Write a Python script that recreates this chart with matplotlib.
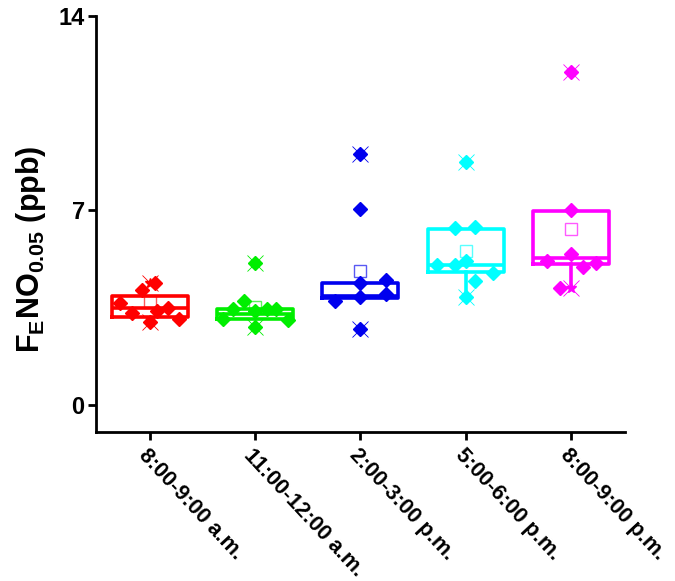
import matplotlib
matplotlib.use("Agg")
import matplotlib.pyplot as plt

plt.rcParams['font.family'] = ['Liberation Sans', 'DejaVu Sans']
plt.rcParams['mathtext.fontset'] = 'custom'
plt.rcParams['mathtext.rm'] = 'Liberation Sans'
plt.rcParams['mathtext.bf'] = 'Liberation Sans:bold'

groups = ['8:00-9:00 a.m.', '11:00-12:00 a.m.', '2:00-3:00 p.m.',
          '5:00-6:00 p.m.', '8:00-9:00 p.m.']
colors = ['#ff0000', '#00ee00', '#0000ee', '#00ffff', '#ff00ff']

# box statistics
q1 = [3.14, 3.07, 3.83, 4.77, 5.05]
med = [3.47, 3.25, 3.90, 5.02, 5.27]
q3 = [3.93, 3.43, 4.40, 6.32, 6.97]
means = [3.68, 3.50, 4.80, 5.52, 6.32]
whisk_lo = [3.14, 3.07, 3.83, 3.86, 4.19]
whisk_hi = [3.93, 3.43, 4.40, 6.32, 6.97]
max_vals = [4.40, 5.09, 9.03, 8.74, 11.98]
min_vals = [2.96, 2.78, 2.74, 3.86, 4.19]

# individual subjects (value, horizontal jitter)
points = [
    [4.37, 4.12, 3.65, 3.29, 2.96, 3.39, 3.47, 3.10],
    [5.09, 3.75, 3.43, 3.07, 3.43, 3.43, 3.03, 3.39, 2.78],
    [9.03, 7.04, 4.48, 3.72, 3.86, 3.97, 4.40, 2.74],
    [8.74, 6.35, 6.39, 5.02, 5.02, 5.16, 4.44, 4.73, 3.86],
    [11.98, 7.00, 5.41, 5.16, 4.95, 5.09, 4.19],
]
jitter = [
    [0.05, -0.07, -0.28, -0.17, 0.0, 0.07, 0.17, 0.28],
    [0.0, -0.10, -0.21, -0.30, 0.11, 0.20, 0.31, 0.0, 0.0],
    [0.0, 0.0, 0.24, -0.24, 0.0, 0.24, 0.0, 0.0],
    [0.0, -0.10, 0.09, -0.27, -0.10, 0.0, 0.09, 0.26, 0.0],
    [0.0, 0.0, 0.0, -0.23, 0.11, 0.23, -0.11],
]

fig = plt.figure(figsize=(6.75, 5.81), dpi=100)
ax = fig.add_axes([0.142, 0.256, 0.784, 0.716])

for i, c in enumerate(colors):
    st = [{'q1': q1[i], 'med': med[i], 'q3': q3[i], 'mean': means[i],
           'whislo': whisk_lo[i], 'whishi': whisk_hi[i], 'fliers': []}]
    ax.bxp(st, positions=[i], widths=0.72, showfliers=False, showcaps=False,
           boxprops=dict(color=c, lw=2.6),
           medianprops=dict(color=c, lw=2.6),
           whiskerprops=dict(color=c, lw=2.6))
    xs = [i + j for j in jitter[i]]
    ax.plot(xs, points[i], 'D', color=c, ms=7, ls='none', zorder=4)
    ax.plot([i, i], [max_vals[i], min_vals[i]], '*', color=c, ms=7, ls='none', zorder=5)
    ax.plot([i, i], [max_vals[i], min_vals[i]], 'x', color=c, ms=11, mew=0.6, ls='none', zorder=5)
    ax.plot([i], [means[i]], 's', mfc='none', mec=c, mew=1.0, ms=8, alpha=0.65, zorder=6)

ax.set_xlim(-0.51, 4.51)
ax.set_ylim(-1, 14)
ax.set_yticks([0, 7, 14])
ax.set_yticklabels(['0', '7', '14'], fontsize=17, fontweight='bold')
ax.set_xticks(range(len(groups)))
ax.set_xticklabels(groups, rotation=-47, ha='left', va='top', rotation_mode='anchor',
                   fontsize=15.5, fontweight='bold')
ax.tick_params(axis='both', width=2, length=6)
ax.tick_params(axis='x', pad=3)
ax.tick_params(axis='y', pad=2)

for s in ['top', 'right']:
    ax.spines[s].set_visible(False)
for s in ['left', 'bottom']:
    ax.spines[s].set_linewidth(2)

ax.set_ylabel(r'$\mathbf{F_{E}NO_{0.05}}$ (ppb)', fontsize=22, fontweight='bold')
ax.yaxis.set_label_coords(-0.09, 0.44)

fig.savefig('out.png', dpi=100)
